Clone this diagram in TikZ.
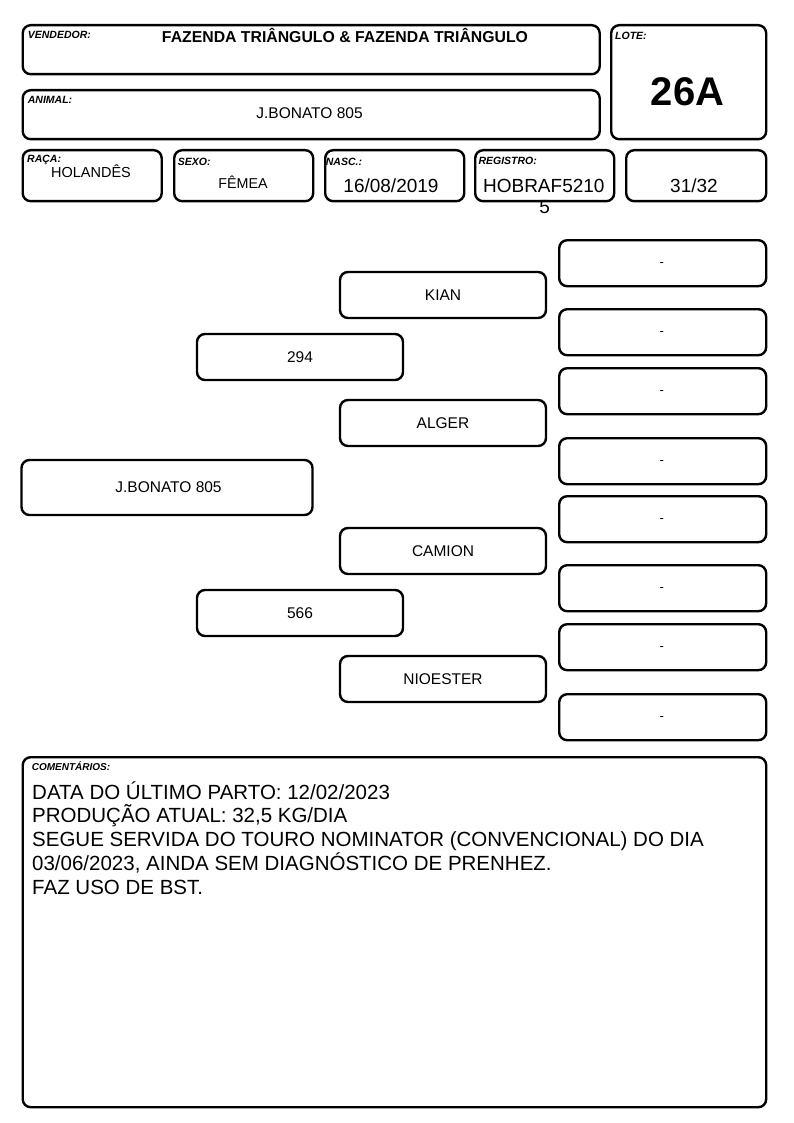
\documentclass[tikz,border=0pt]{standalone}
\usepackage{fontspec}
\setmainfont{Liberation Sans}
\begin{document}
\begin{tikzpicture}[x=1pt,y=-1pt,
  cell/.style={draw=black, line width=2.4pt, rounded corners=8pt, inner sep=0pt, anchor=north west},
  ped/.style={draw=black, line width=2.4pt, rounded corners=8pt, inner sep=0pt, anchor=center,
    font=\fontsize{15.5}{18}\selectfont},
  emptybox/.style={draw=black, line width=2.4pt, rounded corners=8pt, inner sep=0pt, anchor=north west,
    minimum width=207pt, minimum height=46pt},
  lab/.style={inner sep=0pt, anchor=base west, font=\fontsize{10.5}{12}\selectfont\bfseries\itshape},
  val/.style={inner sep=0pt, anchor=base, font=\fontsize{15.5}{18}\selectfont},
  big/.style={inner sep=0pt, anchor=base, font=\fontsize{19}{22}\selectfont},
  com/.style={inner sep=0pt, anchor=base west, font=\fontsize{20.5}{23.8}\selectfont}]
\useasboundingbox[fill=white] (0,0) rectangle (794,1123);

% header boxes
\node[cell, minimum width=577pt, minimum height=49pt] (vend) at (21.5,24) {};
\node[cell, minimum width=155pt, minimum height=114pt] (lote) at (610,24) {};
\node[cell, minimum width=577pt, minimum height=49pt] (animal) at (21.5,89) {};
\node[cell, minimum width=139pt, minimum height=51pt] (raca) at (21.5,149) {};
\node[cell, minimum width=139pt, minimum height=51pt] (sexo) at (173,149) {};
\node[cell, minimum width=139pt, minimum height=51pt] (nasc) at (324,149) {};
\node[cell, minimum width=139pt, minimum height=51pt] (reg) at (474,149) {};
\node[cell, minimum width=140pt, minimum height=51pt] (frac) at (625,149) {};

% header texts
\node[lab] (vendl) at (27.7,39) {VENDEDOR:};
\node[val, font=\fontsize{15.8}{18}\selectfont\bfseries] (vendt) at (345,42.5) {FAZENDA TRIÂNGULO \& FAZENDA TRIÂNGULO};
\node[lab] (lotel) at (615,39.3) {LOTE:};
\node[inner sep=0pt, anchor=base, font=\fontsize{40}{44}\selectfont\bfseries] (lotet) at (687.5,105.7) {26A};
\node[lab] (animall) at (27.7,103.3) {ANIMAL:};
\node[val] (animalt) at (309.5,119) {J.BONATO 805};
\node[lab] (racal) at (27,163) {RAÇA:};
\node[val, font=\fontsize{14.5}{17}\selectfont] (racat) at (91,178) {HOLANDÊS};
\node[lab] (sexol) at (177.7,165.7) {SEXO:};
\node[val, font=\fontsize{14.3}{17}\selectfont] (sexot) at (243,189) {FÊMEA};
\node[lab] (nascl) at (325.7,165.7) {NASC.:};
\node[big] (nasct) at (391,192.7) {16/08/2019};
\node[lab] (regl) at (478.3,165) {REGISTRO:};
\node[big] (regt) at (543.8,192.7) {HOBRAF5210};
\node[big] (regt2) at (544.7,213.3) {5};
\node[big] (fract) at (694,192.7) {31/32};

% pedigree
\node[ped, minimum width=291pt, minimum height=55pt] (p0) at (167,487.5) {\hspace{3pt}J.BONATO 805};
\node[ped, minimum width=206pt, minimum height=46pt] (p1) at (300,357) {294};
\node[ped, minimum width=206pt, minimum height=46pt] (p2) at (300,613) {566};
\node[ped, minimum width=206pt, minimum height=46pt] (g1) at (443,295) {KIAN};
\node[ped, minimum width=206pt, minimum height=46pt] (g2) at (443,423) {ALGER};
\node[ped, minimum width=206pt, minimum height=46pt] (g3) at (443,551) {CAMION};
\node[ped, minimum width=206pt, minimum height=46pt] (g4) at (443,679) {NIOESTER};

\foreach \t [count=\i] in {239,308,367,437,495,564,623,693} {
  \node[emptybox] (d\i) at (558,\t) {};
  \node[inner sep=0pt, font=\fontsize{13}{15}\selectfont] (dt\i) at ([xshift=-1pt,yshift=-1.5pt]d\i.center) {-};
}

% comments
\node[cell, minimum width=743.5pt, minimum height=350pt] (coment) at (21.5,756) {};
\node[lab, font=\fontsize{10}{12}\selectfont\bfseries\itshape] (comentl) at (31.7,770.7) {COMENTÁRIOS:};
\node[com] (c1) at (32,799) {DATA DO ÚLTIMO PARTO: 12/02/2023};
\node[com] (c2) at (32,822.8) {PRODUÇÃO ATUAL: 32,5 KG/DIA};
\node[com] (c3) at (32,846.6) {SEGUE SERVIDA DO TOURO NOMINATOR (CONVENCIONAL) DO DIA};
\node[com] (c4) at (32,870.4) {03/06/2023, AINDA SEM DIAGNÓSTICO DE PRENHEZ.};
\node[com] (c5) at (32,894.2) {FAZ USO DE BST.};
\end{tikzpicture}
\end{document}
